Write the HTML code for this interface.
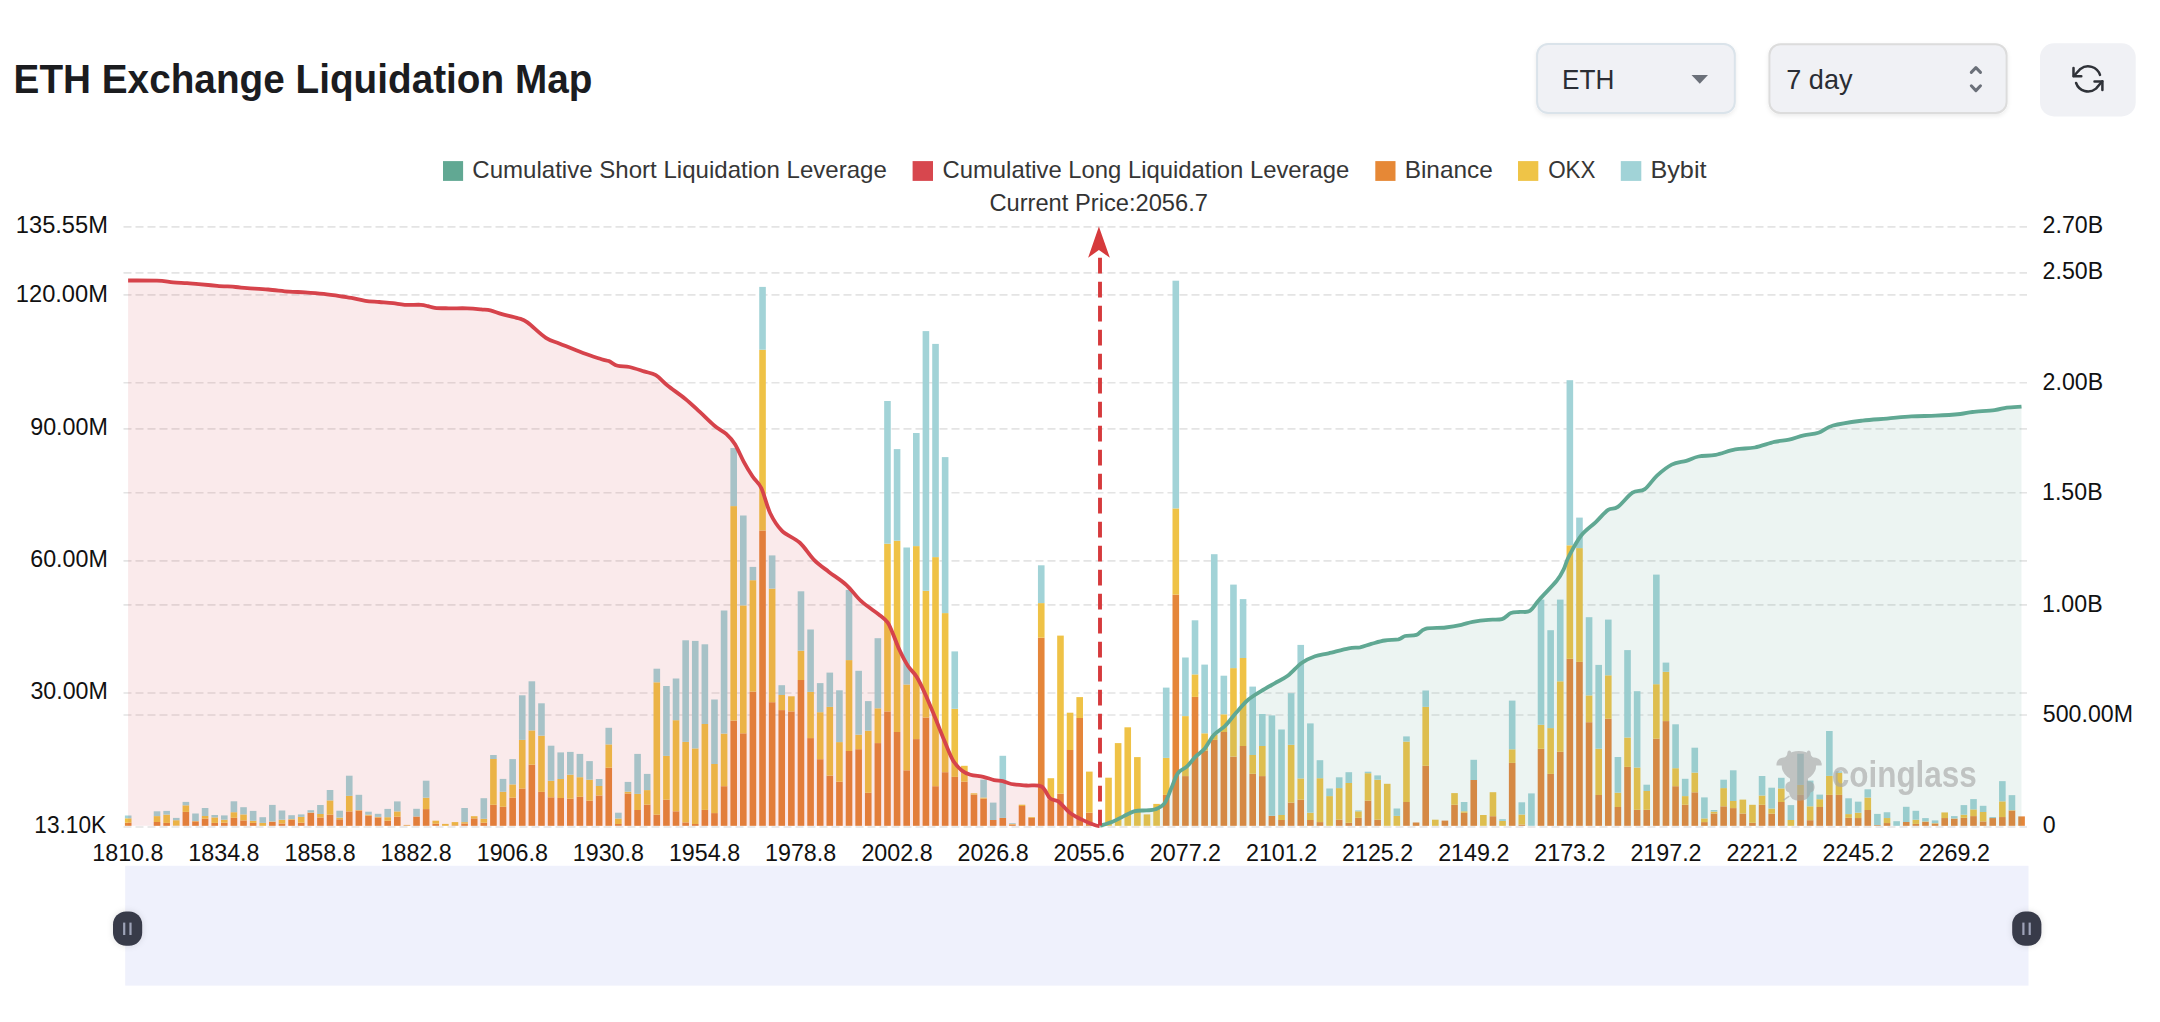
<!DOCTYPE html><html><head><meta charset="utf-8"><title>ETH Exchange Liquidation Map</title><style>html,body{margin:0;padding:0;background:#fff;width:2160px;height:1022px;overflow:hidden}svg{display:block}</style></head><body><svg width="2160" height="1022" viewBox="0 0 2160 1022" font-family="Liberation Sans, sans-serif"><text x="13.59" y="93.10" font-size="40" font-weight="bold" fill="#1b1c1f" textLength="578.79" lengthAdjust="spacingAndGlyphs">ETH Exchange Liquidation Map</text><defs><filter id="sh" x="-10%" y="-20%" width="120%" height="150%"><feDropShadow dx="0" dy="2" stdDeviation="2" flood-color="#000" flood-opacity="0.08"/></filter></defs><rect x="1537.1" y="44.1" width="197.7" height="69" rx="11" fill="#f0f1f5" stroke="#dae3ea" stroke-width="2" filter="url(#sh)"/><text x="1562.04" y="88.90" font-size="27" fill="#2a2d34" textLength="52.32" lengthAdjust="spacingAndGlyphs">ETH</text><path d="M1691.5 75 L1708 75 L1699.8 83.8 Z" fill="#6b7079"/><rect x="1769.4" y="44.3" width="237.2" height="68.6" rx="11" fill="#f0f1f5" stroke="#dcdcdc" stroke-width="2" filter="url(#sh)"/><text x="1786.25" y="89.20" font-size="27.5" fill="#2a2d34" textLength="66.29" lengthAdjust="spacingAndGlyphs">7 day</text><path d="M1971.3 72.4 L1975.9 67.6 L1980.5 72.4 M1971.3 85.8 L1975.9 90.6 L1980.5 85.8" fill="none" stroke="#6b7079" stroke-width="3" stroke-linecap="round" stroke-linejoin="round"/><rect x="2040" y="43.3" width="95.7" height="73.1" rx="14" fill="#f0f1f5"/><g fill="none" stroke="#2f3238" stroke-width="2.5" stroke-linecap="round" stroke-linejoin="round"><path d="M2100 74.9 A12.6 12.6 0 0 0 2080.4 68.9 L2073.8 76"/><path d="M2073.5 68 V76.2 H2081.3"/><path d="M2076.1 83 A12.6 12.6 0 0 0 2096 88.6 L2102.3 81.2"/><path d="M2094.5 81.4 H2102.4 V89.9"/></g><rect x="443.0" y="161.1" width="20.1" height="19.8" fill="#61a893"/><text x="472.30" y="178.00" font-size="24" fill="#363636" textLength="414.55" lengthAdjust="spacingAndGlyphs">Cumulative Short Liquidation Leverage</text><rect x="912.6" y="161.1" width="20.4" height="19.8" fill="#d7474e"/><text x="942.51" y="178.00" font-size="24" fill="#363636" textLength="406.82" lengthAdjust="spacingAndGlyphs">Cumulative Long Liquidation Leverage</text><rect x="1375.3" y="161.1" width="20.2" height="19.8" fill="#e68836"/><text x="1404.69" y="178.00" font-size="24" fill="#363636" textLength="88.08" lengthAdjust="spacingAndGlyphs">Binance</text><rect x="1518.0" y="161.1" width="20.3" height="19.8" fill="#efc447"/><text x="1548.13" y="178.00" font-size="24" fill="#363636" textLength="47.35" lengthAdjust="spacingAndGlyphs">OKX</text><rect x="1620.8" y="161.1" width="20.5" height="19.8" fill="#a1d3d7"/><text x="1650.42" y="178.00" font-size="24" fill="#363636" textLength="56.09" lengthAdjust="spacingAndGlyphs">Bybit</text><line x1="123" y1="226.9" x2="2027" y2="226.9" stroke="#e4e4e4" stroke-width="1.6" stroke-dasharray="8 4" stroke-dashoffset="-0.5"/><line x1="123" y1="272.9" x2="2027" y2="272.9" stroke="#e4e4e4" stroke-width="1.6" stroke-dasharray="8 4" stroke-dashoffset="-0.5"/><line x1="123" y1="294.9" x2="2027" y2="294.9" stroke="#e4e4e4" stroke-width="1.6" stroke-dasharray="8 4" stroke-dashoffset="-0.5"/><line x1="123" y1="382.7" x2="2027" y2="382.7" stroke="#e4e4e4" stroke-width="1.6" stroke-dasharray="8 4" stroke-dashoffset="-0.5"/><line x1="123" y1="428.9" x2="2027" y2="428.9" stroke="#e4e4e4" stroke-width="1.6" stroke-dasharray="8 4" stroke-dashoffset="-0.5"/><line x1="123" y1="492.8" x2="2027" y2="492.8" stroke="#e4e4e4" stroke-width="1.6" stroke-dasharray="8 4" stroke-dashoffset="-0.5"/><line x1="123" y1="560.9" x2="2027" y2="560.9" stroke="#e4e4e4" stroke-width="1.6" stroke-dasharray="8 4" stroke-dashoffset="-0.5"/><line x1="123" y1="604.9" x2="2027" y2="604.9" stroke="#e4e4e4" stroke-width="1.6" stroke-dasharray="8 4" stroke-dashoffset="-0.5"/><line x1="123" y1="693.0" x2="2027" y2="693.0" stroke="#e4e4e4" stroke-width="1.6" stroke-dasharray="8 4" stroke-dashoffset="-0.5"/><line x1="123" y1="715.0" x2="2027" y2="715.0" stroke="#e4e4e4" stroke-width="1.6" stroke-dasharray="8 4" stroke-dashoffset="-0.5"/><line x1="123" y1="827.0" x2="2027" y2="827.0" stroke="#e4e4e4" stroke-width="1.6" stroke-dasharray="8 4" stroke-dashoffset="-0.5"/><g><rect x="124.90" y="822.70" width="6.6" height="3.10" fill="#e5863a"/><rect x="124.90" y="818.30" width="6.6" height="4.40" fill="#efc246"/><rect x="124.90" y="815.50" width="6.6" height="2.80" fill="#a2d3d7"/><rect x="153.73" y="822.00" width="6.6" height="3.80" fill="#e5863a"/><rect x="153.73" y="816.10" width="6.6" height="5.90" fill="#efc246"/><rect x="153.73" y="811.30" width="6.6" height="4.80" fill="#a2d3d7"/><rect x="163.34" y="822.90" width="6.6" height="2.90" fill="#e5863a"/><rect x="163.34" y="814.60" width="6.6" height="8.30" fill="#efc246"/><rect x="163.34" y="810.90" width="6.6" height="3.70" fill="#a2d3d7"/><rect x="172.95" y="825.50" width="6.6" height="0.30" fill="#e5863a"/><rect x="172.95" y="820.20" width="6.6" height="5.30" fill="#efc246"/><rect x="172.95" y="817.90" width="6.6" height="2.30" fill="#a2d3d7"/><rect x="182.57" y="811.90" width="6.6" height="13.90" fill="#e5863a"/><rect x="182.57" y="805.30" width="6.6" height="6.60" fill="#efc246"/><rect x="182.57" y="801.90" width="6.6" height="3.40" fill="#a2d3d7"/><rect x="192.18" y="821.40" width="6.6" height="4.40" fill="#e5863a"/><rect x="192.18" y="821.00" width="6.6" height="0.40" fill="#efc246"/><rect x="192.18" y="813.50" width="6.6" height="7.50" fill="#a2d3d7"/><rect x="201.79" y="818.60" width="6.6" height="7.20" fill="#e5863a"/><rect x="201.79" y="816.00" width="6.6" height="2.60" fill="#efc246"/><rect x="201.79" y="808.00" width="6.6" height="8.00" fill="#a2d3d7"/><rect x="211.40" y="822.90" width="6.6" height="2.90" fill="#e5863a"/><rect x="211.40" y="817.40" width="6.6" height="5.50" fill="#efc246"/><rect x="211.40" y="815.00" width="6.6" height="2.40" fill="#a2d3d7"/><rect x="221.01" y="822.70" width="6.6" height="3.10" fill="#e5863a"/><rect x="221.01" y="819.70" width="6.6" height="3.00" fill="#efc246"/><rect x="221.01" y="815.40" width="6.6" height="4.30" fill="#a2d3d7"/><rect x="230.62" y="817.80" width="6.6" height="8.00" fill="#e5863a"/><rect x="230.62" y="812.20" width="6.6" height="5.60" fill="#efc246"/><rect x="230.62" y="801.30" width="6.6" height="10.90" fill="#a2d3d7"/><rect x="240.23" y="820.40" width="6.6" height="5.40" fill="#e5863a"/><rect x="240.23" y="814.40" width="6.6" height="6.00" fill="#efc246"/><rect x="240.23" y="807.20" width="6.6" height="7.20" fill="#a2d3d7"/><rect x="249.84" y="822.90" width="6.6" height="2.90" fill="#e5863a"/><rect x="249.84" y="820.80" width="6.6" height="2.10" fill="#efc246"/><rect x="249.84" y="810.90" width="6.6" height="9.90" fill="#a2d3d7"/><rect x="259.45" y="822.90" width="6.6" height="2.90" fill="#efc246"/><rect x="259.45" y="817.20" width="6.6" height="5.70" fill="#a2d3d7"/><rect x="269.06" y="821.80" width="6.6" height="4.00" fill="#e5863a"/><rect x="269.06" y="821.50" width="6.6" height="0.30" fill="#efc246"/><rect x="269.06" y="804.90" width="6.6" height="16.60" fill="#a2d3d7"/><rect x="278.68" y="823.50" width="6.6" height="2.30" fill="#e5863a"/><rect x="278.68" y="819.70" width="6.6" height="3.80" fill="#efc246"/><rect x="278.68" y="810.50" width="6.6" height="9.20" fill="#a2d3d7"/><rect x="288.29" y="819.70" width="6.6" height="6.10" fill="#e5863a"/><rect x="288.29" y="819.10" width="6.6" height="0.60" fill="#efc246"/><rect x="288.29" y="815.20" width="6.6" height="3.90" fill="#a2d3d7"/><rect x="297.90" y="822.70" width="6.6" height="3.10" fill="#e5863a"/><rect x="297.90" y="816.90" width="6.6" height="5.80" fill="#efc246"/><rect x="297.90" y="814.40" width="6.6" height="2.50" fill="#a2d3d7"/><rect x="307.51" y="812.80" width="6.6" height="13.00" fill="#e5863a"/><rect x="307.51" y="812.50" width="6.6" height="0.30" fill="#efc246"/><rect x="307.51" y="810.20" width="6.6" height="2.30" fill="#a2d3d7"/><rect x="317.12" y="817.50" width="6.6" height="8.30" fill="#e5863a"/><rect x="317.12" y="814.00" width="6.6" height="3.50" fill="#efc246"/><rect x="317.12" y="805.00" width="6.6" height="9.00" fill="#a2d3d7"/><rect x="326.73" y="814.70" width="6.6" height="11.10" fill="#e5863a"/><rect x="326.73" y="800.40" width="6.6" height="14.30" fill="#efc246"/><rect x="326.73" y="790.00" width="6.6" height="10.40" fill="#a2d3d7"/><rect x="336.34" y="819.30" width="6.6" height="6.50" fill="#e5863a"/><rect x="336.34" y="817.60" width="6.6" height="1.70" fill="#efc246"/><rect x="336.34" y="810.70" width="6.6" height="6.90" fill="#a2d3d7"/><rect x="345.95" y="811.40" width="6.6" height="14.40" fill="#e5863a"/><rect x="345.95" y="795.90" width="6.6" height="15.50" fill="#efc246"/><rect x="345.95" y="775.70" width="6.6" height="20.20" fill="#a2d3d7"/><rect x="355.56" y="810.50" width="6.6" height="15.30" fill="#e5863a"/><rect x="355.56" y="810.10" width="6.6" height="0.40" fill="#efc246"/><rect x="355.56" y="794.80" width="6.6" height="15.30" fill="#a2d3d7"/><rect x="365.18" y="815.60" width="6.6" height="10.20" fill="#e5863a"/><rect x="365.18" y="814.70" width="6.6" height="0.90" fill="#efc246"/><rect x="365.18" y="811.70" width="6.6" height="3.00" fill="#a2d3d7"/><rect x="374.79" y="817.50" width="6.6" height="8.30" fill="#e5863a"/><rect x="374.79" y="816.90" width="6.6" height="0.60" fill="#efc246"/><rect x="374.79" y="813.80" width="6.6" height="3.10" fill="#a2d3d7"/><rect x="384.40" y="820.70" width="6.6" height="5.10" fill="#e5863a"/><rect x="384.40" y="817.20" width="6.6" height="3.50" fill="#efc246"/><rect x="384.40" y="808.90" width="6.6" height="8.30" fill="#a2d3d7"/><rect x="394.01" y="816.70" width="6.6" height="9.10" fill="#e5863a"/><rect x="394.01" y="811.40" width="6.6" height="5.30" fill="#efc246"/><rect x="394.01" y="801.40" width="6.6" height="10.00" fill="#a2d3d7"/><rect x="403.62" y="825.30" width="6.6" height="0.50" fill="#e5863a"/><rect x="403.62" y="824.90" width="6.6" height="0.40" fill="#efc246"/><rect x="413.23" y="816.50" width="6.6" height="9.30" fill="#e5863a"/><rect x="413.23" y="808.80" width="6.6" height="7.70" fill="#a2d3d7"/><rect x="422.84" y="809.10" width="6.6" height="16.70" fill="#e5863a"/><rect x="422.84" y="797.70" width="6.6" height="11.40" fill="#efc246"/><rect x="422.84" y="780.70" width="6.6" height="17.00" fill="#a2d3d7"/><rect x="432.45" y="823.70" width="6.6" height="2.10" fill="#e5863a"/><rect x="432.45" y="820.70" width="6.6" height="3.00" fill="#efc246"/><rect x="442.06" y="823.90" width="6.6" height="1.90" fill="#efc246"/><rect x="451.67" y="825.30" width="6.6" height="0.50" fill="#e5863a"/><rect x="451.67" y="822.10" width="6.6" height="3.20" fill="#efc246"/><rect x="461.29" y="823.50" width="6.6" height="2.30" fill="#e5863a"/><rect x="461.29" y="822.10" width="6.6" height="1.40" fill="#efc246"/><rect x="461.29" y="808.00" width="6.6" height="14.10" fill="#a2d3d7"/><rect x="470.90" y="818.40" width="6.6" height="7.40" fill="#e5863a"/><rect x="470.90" y="816.20" width="6.6" height="2.20" fill="#efc246"/><rect x="480.51" y="822.70" width="6.6" height="3.10" fill="#e5863a"/><rect x="480.51" y="818.80" width="6.6" height="3.90" fill="#efc246"/><rect x="480.51" y="798.20" width="6.6" height="20.60" fill="#a2d3d7"/><rect x="490.12" y="804.80" width="6.6" height="21.00" fill="#e5863a"/><rect x="490.12" y="759.00" width="6.6" height="45.80" fill="#efc246"/><rect x="490.12" y="755.00" width="6.6" height="4.00" fill="#a2d3d7"/><rect x="499.73" y="806.80" width="6.6" height="19.00" fill="#e5863a"/><rect x="499.73" y="791.80" width="6.6" height="15.00" fill="#efc246"/><rect x="499.73" y="778.90" width="6.6" height="12.90" fill="#a2d3d7"/><rect x="509.34" y="797.70" width="6.6" height="28.10" fill="#e5863a"/><rect x="509.34" y="784.40" width="6.6" height="13.30" fill="#efc246"/><rect x="509.34" y="759.10" width="6.6" height="25.30" fill="#a2d3d7"/><rect x="518.95" y="788.50" width="6.6" height="37.30" fill="#e5863a"/><rect x="518.95" y="739.90" width="6.6" height="48.60" fill="#efc246"/><rect x="518.95" y="695.30" width="6.6" height="44.60" fill="#a2d3d7"/><rect x="528.56" y="764.70" width="6.6" height="61.10" fill="#e5863a"/><rect x="528.56" y="730.40" width="6.6" height="34.30" fill="#efc246"/><rect x="528.56" y="681.30" width="6.6" height="49.10" fill="#a2d3d7"/><rect x="538.17" y="791.90" width="6.6" height="33.90" fill="#e5863a"/><rect x="538.17" y="735.70" width="6.6" height="56.20" fill="#efc246"/><rect x="538.17" y="703.30" width="6.6" height="32.40" fill="#a2d3d7"/><rect x="547.78" y="797.30" width="6.6" height="28.50" fill="#e5863a"/><rect x="547.78" y="780.80" width="6.6" height="16.50" fill="#efc246"/><rect x="547.78" y="745.70" width="6.6" height="35.10" fill="#a2d3d7"/><rect x="557.39" y="798.00" width="6.6" height="27.80" fill="#e5863a"/><rect x="557.39" y="779.00" width="6.6" height="19.00" fill="#efc246"/><rect x="557.39" y="752.40" width="6.6" height="26.60" fill="#a2d3d7"/><rect x="567.01" y="798.70" width="6.6" height="27.10" fill="#e5863a"/><rect x="567.01" y="774.70" width="6.6" height="24.00" fill="#efc246"/><rect x="567.01" y="751.90" width="6.6" height="22.80" fill="#a2d3d7"/><rect x="576.62" y="796.80" width="6.6" height="29.00" fill="#e5863a"/><rect x="576.62" y="777.20" width="6.6" height="19.60" fill="#efc246"/><rect x="576.62" y="753.90" width="6.6" height="23.30" fill="#a2d3d7"/><rect x="586.23" y="800.70" width="6.6" height="25.10" fill="#e5863a"/><rect x="586.23" y="779.70" width="6.6" height="21.00" fill="#efc246"/><rect x="586.23" y="761.10" width="6.6" height="18.60" fill="#a2d3d7"/><rect x="595.84" y="795.50" width="6.6" height="30.30" fill="#e5863a"/><rect x="595.84" y="786.00" width="6.6" height="9.50" fill="#efc246"/><rect x="595.84" y="779.00" width="6.6" height="7.00" fill="#a2d3d7"/><rect x="605.45" y="767.70" width="6.6" height="58.10" fill="#e5863a"/><rect x="605.45" y="744.40" width="6.6" height="23.30" fill="#efc246"/><rect x="605.45" y="727.80" width="6.6" height="16.60" fill="#a2d3d7"/><rect x="615.06" y="824.00" width="6.6" height="1.80" fill="#e5863a"/><rect x="615.06" y="818.50" width="6.6" height="5.50" fill="#efc246"/><rect x="615.06" y="812.70" width="6.6" height="5.80" fill="#a2d3d7"/><rect x="624.67" y="793.50" width="6.6" height="32.30" fill="#e5863a"/><rect x="624.67" y="791.70" width="6.6" height="1.80" fill="#efc246"/><rect x="624.67" y="781.90" width="6.6" height="9.80" fill="#a2d3d7"/><rect x="634.28" y="810.00" width="6.6" height="15.80" fill="#e5863a"/><rect x="634.28" y="793.90" width="6.6" height="16.10" fill="#efc246"/><rect x="634.28" y="753.90" width="6.6" height="40.00" fill="#a2d3d7"/><rect x="643.89" y="804.70" width="6.6" height="21.10" fill="#e5863a"/><rect x="643.89" y="790.10" width="6.6" height="14.60" fill="#efc246"/><rect x="643.89" y="773.90" width="6.6" height="16.20" fill="#a2d3d7"/><rect x="653.51" y="814.70" width="6.6" height="11.10" fill="#e5863a"/><rect x="653.51" y="682.30" width="6.6" height="132.40" fill="#efc246"/><rect x="653.51" y="668.70" width="6.6" height="13.60" fill="#a2d3d7"/><rect x="663.12" y="799.70" width="6.6" height="26.10" fill="#e5863a"/><rect x="663.12" y="755.90" width="6.6" height="43.80" fill="#efc246"/><rect x="663.12" y="686.00" width="6.6" height="69.90" fill="#a2d3d7"/><rect x="672.73" y="811.30" width="6.6" height="14.50" fill="#e5863a"/><rect x="672.73" y="720.20" width="6.6" height="91.10" fill="#efc246"/><rect x="672.73" y="678.50" width="6.6" height="41.70" fill="#a2d3d7"/><rect x="682.34" y="822.40" width="6.6" height="3.40" fill="#e5863a"/><rect x="682.34" y="741.90" width="6.6" height="80.50" fill="#efc246"/><rect x="682.34" y="640.30" width="6.6" height="101.60" fill="#a2d3d7"/><rect x="691.95" y="824.00" width="6.6" height="1.80" fill="#e5863a"/><rect x="691.95" y="748.40" width="6.6" height="75.60" fill="#efc246"/><rect x="691.95" y="640.90" width="6.6" height="107.50" fill="#a2d3d7"/><rect x="701.56" y="809.90" width="6.6" height="15.90" fill="#e5863a"/><rect x="701.56" y="724.00" width="6.6" height="85.90" fill="#efc246"/><rect x="701.56" y="644.30" width="6.6" height="79.70" fill="#a2d3d7"/><rect x="711.17" y="813.10" width="6.6" height="12.70" fill="#e5863a"/><rect x="711.17" y="764.00" width="6.6" height="49.10" fill="#efc246"/><rect x="711.17" y="699.50" width="6.6" height="64.50" fill="#a2d3d7"/><rect x="720.78" y="786.20" width="6.6" height="39.60" fill="#e5863a"/><rect x="720.78" y="733.60" width="6.6" height="52.60" fill="#efc246"/><rect x="720.78" y="610.50" width="6.6" height="123.10" fill="#a2d3d7"/><rect x="730.39" y="720.60" width="6.6" height="105.20" fill="#e5863a"/><rect x="730.39" y="506.10" width="6.6" height="214.50" fill="#efc246"/><rect x="730.39" y="448.00" width="6.6" height="58.10" fill="#a2d3d7"/><rect x="740.00" y="733.30" width="6.6" height="92.50" fill="#e5863a"/><rect x="740.00" y="605.40" width="6.6" height="127.90" fill="#efc246"/><rect x="740.00" y="515.50" width="6.6" height="89.90" fill="#a2d3d7"/><rect x="749.62" y="691.60" width="6.6" height="134.20" fill="#e5863a"/><rect x="749.62" y="580.20" width="6.6" height="111.40" fill="#efc246"/><rect x="749.62" y="566.90" width="6.6" height="13.30" fill="#a2d3d7"/><rect x="759.23" y="530.50" width="6.6" height="295.30" fill="#e5863a"/><rect x="759.23" y="349.70" width="6.6" height="180.80" fill="#efc246"/><rect x="759.23" y="286.90" width="6.6" height="62.80" fill="#a2d3d7"/><rect x="768.84" y="702.20" width="6.6" height="123.60" fill="#e5863a"/><rect x="768.84" y="588.60" width="6.6" height="113.60" fill="#efc246"/><rect x="768.84" y="555.40" width="6.6" height="33.20" fill="#a2d3d7"/><rect x="778.45" y="710.10" width="6.6" height="115.70" fill="#e5863a"/><rect x="778.45" y="695.00" width="6.6" height="15.10" fill="#efc246"/><rect x="778.45" y="685.20" width="6.6" height="9.80" fill="#a2d3d7"/><rect x="788.06" y="711.40" width="6.6" height="114.40" fill="#e5863a"/><rect x="788.06" y="696.30" width="6.6" height="15.10" fill="#efc246"/><rect x="797.67" y="680.00" width="6.6" height="145.80" fill="#e5863a"/><rect x="797.67" y="650.70" width="6.6" height="29.30" fill="#efc246"/><rect x="797.67" y="591.30" width="6.6" height="59.40" fill="#a2d3d7"/><rect x="807.28" y="738.10" width="6.6" height="87.70" fill="#e5863a"/><rect x="807.28" y="691.90" width="6.6" height="46.20" fill="#efc246"/><rect x="807.28" y="629.50" width="6.6" height="62.40" fill="#a2d3d7"/><rect x="816.89" y="759.20" width="6.6" height="66.60" fill="#e5863a"/><rect x="816.89" y="712.20" width="6.6" height="47.00" fill="#efc246"/><rect x="816.89" y="683.10" width="6.6" height="29.10" fill="#a2d3d7"/><rect x="826.50" y="775.60" width="6.6" height="50.20" fill="#e5863a"/><rect x="826.50" y="706.90" width="6.6" height="68.70" fill="#efc246"/><rect x="826.50" y="672.60" width="6.6" height="34.30" fill="#a2d3d7"/><rect x="836.11" y="781.70" width="6.6" height="44.10" fill="#e5863a"/><rect x="836.11" y="742.10" width="6.6" height="39.60" fill="#efc246"/><rect x="836.11" y="690.30" width="6.6" height="51.80" fill="#a2d3d7"/><rect x="845.73" y="751.00" width="6.6" height="74.80" fill="#e5863a"/><rect x="845.73" y="660.10" width="6.6" height="90.90" fill="#efc246"/><rect x="845.73" y="589.90" width="6.6" height="70.20" fill="#a2d3d7"/><rect x="855.34" y="749.20" width="6.6" height="76.60" fill="#e5863a"/><rect x="855.34" y="734.70" width="6.6" height="14.50" fill="#efc246"/><rect x="855.34" y="670.80" width="6.6" height="63.90" fill="#a2d3d7"/><rect x="864.95" y="792.80" width="6.6" height="33.00" fill="#e5863a"/><rect x="864.95" y="730.70" width="6.6" height="62.10" fill="#efc246"/><rect x="864.95" y="701.10" width="6.6" height="29.60" fill="#a2d3d7"/><rect x="874.56" y="743.10" width="6.6" height="82.70" fill="#e5863a"/><rect x="874.56" y="708.30" width="6.6" height="34.80" fill="#efc246"/><rect x="874.56" y="638.20" width="6.6" height="70.10" fill="#a2d3d7"/><rect x="884.17" y="711.40" width="6.6" height="114.40" fill="#e5863a"/><rect x="884.17" y="543.70" width="6.6" height="167.70" fill="#efc246"/><rect x="884.17" y="401.00" width="6.6" height="142.70" fill="#a2d3d7"/><rect x="893.78" y="732.00" width="6.6" height="93.80" fill="#e5863a"/><rect x="893.78" y="540.70" width="6.6" height="191.30" fill="#efc246"/><rect x="893.78" y="449.10" width="6.6" height="91.60" fill="#a2d3d7"/><rect x="903.39" y="770.30" width="6.6" height="55.50" fill="#e5863a"/><rect x="903.39" y="684.50" width="6.6" height="85.80" fill="#efc246"/><rect x="903.39" y="547.50" width="6.6" height="137.00" fill="#a2d3d7"/><rect x="913.00" y="739.10" width="6.6" height="86.70" fill="#e5863a"/><rect x="913.00" y="546.10" width="6.6" height="193.00" fill="#efc246"/><rect x="913.00" y="433.00" width="6.6" height="113.10" fill="#a2d3d7"/><rect x="922.61" y="717.50" width="6.6" height="108.30" fill="#e5863a"/><rect x="922.61" y="590.80" width="6.6" height="126.70" fill="#efc246"/><rect x="922.61" y="331.10" width="6.6" height="259.70" fill="#a2d3d7"/><rect x="932.22" y="786.20" width="6.6" height="39.60" fill="#e5863a"/><rect x="932.22" y="557.10" width="6.6" height="229.10" fill="#efc246"/><rect x="932.22" y="343.90" width="6.6" height="213.20" fill="#a2d3d7"/><rect x="941.84" y="772.20" width="6.6" height="53.60" fill="#e5863a"/><rect x="941.84" y="613.10" width="6.6" height="159.10" fill="#efc246"/><rect x="941.84" y="457.10" width="6.6" height="156.00" fill="#a2d3d7"/><rect x="951.45" y="776.90" width="6.6" height="48.90" fill="#e5863a"/><rect x="951.45" y="708.80" width="6.6" height="68.10" fill="#efc246"/><rect x="951.45" y="651.40" width="6.6" height="57.40" fill="#a2d3d7"/><rect x="961.06" y="781.70" width="6.6" height="44.10" fill="#e5863a"/><rect x="961.06" y="765.80" width="6.6" height="15.90" fill="#efc246"/><rect x="970.67" y="794.60" width="6.6" height="31.20" fill="#e5863a"/><rect x="970.67" y="793.30" width="6.6" height="1.30" fill="#efc246"/><rect x="980.28" y="798.60" width="6.6" height="27.20" fill="#e5863a"/><rect x="980.28" y="797.50" width="6.6" height="1.10" fill="#efc246"/><rect x="980.28" y="779.60" width="6.6" height="17.90" fill="#a2d3d7"/><rect x="989.89" y="820.00" width="6.6" height="5.80" fill="#e5863a"/><rect x="989.89" y="802.60" width="6.6" height="17.40" fill="#a2d3d7"/><rect x="999.50" y="817.90" width="6.6" height="7.90" fill="#e5863a"/><rect x="999.50" y="755.80" width="6.6" height="62.10" fill="#a2d3d7"/><rect x="1009.11" y="824.50" width="6.6" height="1.30" fill="#e5863a"/><rect x="1009.11" y="824.00" width="6.6" height="0.50" fill="#efc246"/><rect x="1009.11" y="823.20" width="6.6" height="0.80" fill="#a2d3d7"/><rect x="1018.72" y="806.00" width="6.6" height="19.80" fill="#e5863a"/><rect x="1018.72" y="804.70" width="6.6" height="1.30" fill="#efc246"/><rect x="1028.33" y="817.90" width="6.6" height="7.90" fill="#e5863a"/><rect x="1028.33" y="817.10" width="6.6" height="0.80" fill="#efc246"/><rect x="1037.95" y="637.70" width="6.6" height="188.10" fill="#e5863a"/><rect x="1037.95" y="603.10" width="6.6" height="34.60" fill="#efc246"/><rect x="1037.95" y="565.30" width="6.6" height="37.80" fill="#a2d3d7"/><rect x="1047.56" y="799.40" width="6.6" height="26.40" fill="#e5863a"/><rect x="1047.56" y="778.20" width="6.6" height="21.20" fill="#efc246"/><rect x="1057.17" y="793.60" width="6.6" height="32.20" fill="#e5863a"/><rect x="1057.17" y="635.60" width="6.6" height="158.00" fill="#efc246"/><rect x="1066.78" y="750.00" width="6.6" height="75.80" fill="#e5863a"/><rect x="1066.78" y="712.70" width="6.6" height="37.30" fill="#efc246"/><rect x="1076.39" y="718.00" width="6.6" height="107.80" fill="#e5863a"/><rect x="1076.39" y="697.10" width="6.6" height="20.90" fill="#efc246"/><rect x="1086.00" y="812.60" width="6.6" height="13.20" fill="#e5863a"/><rect x="1086.00" y="771.60" width="6.6" height="41.00" fill="#efc246"/><rect x="1105.22" y="777.70" width="6.6" height="48.10" fill="#efc246"/><rect x="1114.83" y="743.10" width="6.6" height="82.70" fill="#efc246"/><rect x="1124.44" y="727.30" width="6.6" height="98.50" fill="#efc246"/><rect x="1134.06" y="757.10" width="6.6" height="68.70" fill="#efc246"/><rect x="1143.67" y="814.40" width="6.6" height="11.40" fill="#efc246"/><rect x="1153.28" y="803.90" width="6.6" height="21.90" fill="#efc246"/><rect x="1162.89" y="794.90" width="6.6" height="30.90" fill="#e5863a"/><rect x="1162.89" y="757.90" width="6.6" height="37.00" fill="#efc246"/><rect x="1162.89" y="687.60" width="6.6" height="70.30" fill="#a2d3d7"/><rect x="1172.50" y="594.60" width="6.6" height="231.20" fill="#e5863a"/><rect x="1172.50" y="508.40" width="6.6" height="86.20" fill="#efc246"/><rect x="1172.50" y="280.70" width="6.6" height="227.70" fill="#a2d3d7"/><rect x="1182.11" y="776.10" width="6.6" height="49.70" fill="#e5863a"/><rect x="1182.11" y="716.10" width="6.6" height="60.00" fill="#efc246"/><rect x="1182.11" y="657.50" width="6.6" height="58.60" fill="#a2d3d7"/><rect x="1191.72" y="696.90" width="6.6" height="128.90" fill="#e5863a"/><rect x="1191.72" y="674.40" width="6.6" height="22.50" fill="#efc246"/><rect x="1191.72" y="620.30" width="6.6" height="54.10" fill="#a2d3d7"/><rect x="1201.33" y="750.50" width="6.6" height="75.30" fill="#e5863a"/><rect x="1201.33" y="733.30" width="6.6" height="17.20" fill="#efc246"/><rect x="1201.33" y="664.60" width="6.6" height="68.70" fill="#a2d3d7"/><rect x="1210.94" y="739.90" width="6.6" height="85.90" fill="#e5863a"/><rect x="1210.94" y="734.60" width="6.6" height="5.30" fill="#efc246"/><rect x="1210.94" y="554.20" width="6.6" height="180.40" fill="#a2d3d7"/><rect x="1220.55" y="732.00" width="6.6" height="93.80" fill="#e5863a"/><rect x="1220.55" y="714.30" width="6.6" height="17.70" fill="#efc246"/><rect x="1220.55" y="675.70" width="6.6" height="38.60" fill="#a2d3d7"/><rect x="1230.17" y="756.60" width="6.6" height="69.20" fill="#e5863a"/><rect x="1230.17" y="668.10" width="6.6" height="88.50" fill="#efc246"/><rect x="1230.17" y="584.60" width="6.6" height="83.50" fill="#a2d3d7"/><rect x="1239.78" y="746.00" width="6.6" height="79.80" fill="#e5863a"/><rect x="1239.78" y="658.00" width="6.6" height="88.00" fill="#efc246"/><rect x="1239.78" y="599.10" width="6.6" height="58.90" fill="#a2d3d7"/><rect x="1249.39" y="773.80" width="6.6" height="52.00" fill="#e5863a"/><rect x="1249.39" y="755.00" width="6.6" height="18.80" fill="#efc246"/><rect x="1249.39" y="686.60" width="6.6" height="68.40" fill="#a2d3d7"/><rect x="1259.00" y="776.10" width="6.6" height="49.70" fill="#e5863a"/><rect x="1259.00" y="746.00" width="6.6" height="30.10" fill="#efc246"/><rect x="1259.00" y="714.00" width="6.6" height="32.00" fill="#a2d3d7"/><rect x="1268.61" y="815.80" width="6.6" height="10.00" fill="#e5863a"/><rect x="1268.61" y="715.40" width="6.6" height="100.40" fill="#a2d3d7"/><rect x="1278.22" y="820.00" width="6.6" height="5.80" fill="#e5863a"/><rect x="1278.22" y="815.00" width="6.6" height="5.00" fill="#efc246"/><rect x="1278.22" y="729.50" width="6.6" height="85.50" fill="#a2d3d7"/><rect x="1287.83" y="802.60" width="6.6" height="23.20" fill="#e5863a"/><rect x="1287.83" y="744.80" width="6.6" height="57.80" fill="#efc246"/><rect x="1287.83" y="693.20" width="6.6" height="51.60" fill="#a2d3d7"/><rect x="1297.44" y="799.60" width="6.6" height="26.20" fill="#e5863a"/><rect x="1297.44" y="778.40" width="6.6" height="21.20" fill="#efc246"/><rect x="1297.44" y="644.90" width="6.6" height="133.50" fill="#a2d3d7"/><rect x="1307.05" y="820.00" width="6.6" height="5.80" fill="#e5863a"/><rect x="1307.05" y="812.70" width="6.6" height="7.30" fill="#efc246"/><rect x="1307.05" y="723.40" width="6.6" height="89.30" fill="#a2d3d7"/><rect x="1316.66" y="822.10" width="6.6" height="3.70" fill="#e5863a"/><rect x="1316.66" y="778.20" width="6.6" height="43.90" fill="#efc246"/><rect x="1316.66" y="760.20" width="6.6" height="18.00" fill="#a2d3d7"/><rect x="1326.28" y="796.10" width="6.6" height="29.70" fill="#efc246"/><rect x="1326.28" y="788.50" width="6.6" height="7.60" fill="#a2d3d7"/><rect x="1335.89" y="819.70" width="6.6" height="6.10" fill="#e5863a"/><rect x="1335.89" y="788.10" width="6.6" height="31.60" fill="#efc246"/><rect x="1335.89" y="777.30" width="6.6" height="10.80" fill="#a2d3d7"/><rect x="1345.50" y="822.80" width="6.6" height="3.00" fill="#e5863a"/><rect x="1345.50" y="783.00" width="6.6" height="39.80" fill="#efc246"/><rect x="1345.50" y="772.20" width="6.6" height="10.80" fill="#a2d3d7"/><rect x="1355.11" y="817.80" width="6.6" height="8.00" fill="#e5863a"/><rect x="1355.11" y="811.30" width="6.6" height="6.50" fill="#efc246"/><rect x="1355.11" y="810.40" width="6.6" height="0.90" fill="#a2d3d7"/><rect x="1364.72" y="800.70" width="6.6" height="25.10" fill="#e5863a"/><rect x="1364.72" y="773.20" width="6.6" height="27.50" fill="#efc246"/><rect x="1364.72" y="771.70" width="6.6" height="1.50" fill="#a2d3d7"/><rect x="1374.33" y="819.70" width="6.6" height="6.10" fill="#e5863a"/><rect x="1374.33" y="779.70" width="6.6" height="40.00" fill="#efc246"/><rect x="1374.33" y="775.40" width="6.6" height="4.30" fill="#a2d3d7"/><rect x="1383.94" y="783.80" width="6.6" height="42.00" fill="#efc246"/><rect x="1393.55" y="815.90" width="6.6" height="9.90" fill="#efc246"/><rect x="1393.55" y="808.50" width="6.6" height="7.40" fill="#a2d3d7"/><rect x="1403.16" y="802.00" width="6.6" height="23.80" fill="#e5863a"/><rect x="1403.16" y="741.60" width="6.6" height="60.40" fill="#efc246"/><rect x="1403.16" y="736.40" width="6.6" height="5.20" fill="#a2d3d7"/><rect x="1412.77" y="822.50" width="6.6" height="3.30" fill="#e5863a"/><rect x="1422.39" y="765.80" width="6.6" height="60.00" fill="#e5863a"/><rect x="1422.39" y="706.90" width="6.6" height="58.90" fill="#efc246"/><rect x="1422.39" y="690.50" width="6.6" height="16.40" fill="#a2d3d7"/><rect x="1432.00" y="819.70" width="6.6" height="6.10" fill="#efc246"/><rect x="1441.61" y="820.60" width="6.6" height="5.20" fill="#e5863a"/><rect x="1451.22" y="804.80" width="6.6" height="21.00" fill="#e5863a"/><rect x="1451.22" y="793.10" width="6.6" height="11.70" fill="#efc246"/><rect x="1460.83" y="812.80" width="6.6" height="13.00" fill="#e5863a"/><rect x="1460.83" y="811.30" width="6.6" height="1.50" fill="#efc246"/><rect x="1460.83" y="802.00" width="6.6" height="9.30" fill="#a2d3d7"/><rect x="1470.44" y="780.00" width="6.6" height="45.80" fill="#e5863a"/><rect x="1470.44" y="759.80" width="6.6" height="20.20" fill="#a2d3d7"/><rect x="1480.05" y="815.00" width="6.6" height="10.80" fill="#efc246"/><rect x="1489.66" y="816.20" width="6.6" height="9.60" fill="#e5863a"/><rect x="1489.66" y="792.20" width="6.6" height="24.00" fill="#efc246"/><rect x="1499.27" y="820.90" width="6.6" height="4.90" fill="#efc246"/><rect x="1499.27" y="819.20" width="6.6" height="1.70" fill="#a2d3d7"/><rect x="1508.88" y="762.90" width="6.6" height="62.90" fill="#e5863a"/><rect x="1508.88" y="749.30" width="6.6" height="13.60" fill="#efc246"/><rect x="1508.88" y="700.60" width="6.6" height="48.70" fill="#a2d3d7"/><rect x="1518.50" y="824.60" width="6.6" height="1.20" fill="#e5863a"/><rect x="1518.50" y="814.50" width="6.6" height="10.10" fill="#efc246"/><rect x="1518.50" y="802.30" width="6.6" height="12.20" fill="#a2d3d7"/><rect x="1528.11" y="793.40" width="6.6" height="32.40" fill="#a2d3d7"/><rect x="1537.72" y="748.80" width="6.6" height="77.00" fill="#e5863a"/><rect x="1537.72" y="724.80" width="6.6" height="24.00" fill="#efc246"/><rect x="1537.72" y="599.60" width="6.6" height="125.20" fill="#a2d3d7"/><rect x="1547.33" y="773.90" width="6.6" height="51.90" fill="#e5863a"/><rect x="1547.33" y="728.10" width="6.6" height="45.80" fill="#efc246"/><rect x="1547.33" y="630.20" width="6.6" height="97.90" fill="#a2d3d7"/><rect x="1556.94" y="751.80" width="6.6" height="74.00" fill="#e5863a"/><rect x="1556.94" y="681.30" width="6.6" height="70.50" fill="#efc246"/><rect x="1556.94" y="599.60" width="6.6" height="81.70" fill="#a2d3d7"/><rect x="1566.55" y="658.80" width="6.6" height="167.00" fill="#e5863a"/><rect x="1566.55" y="545.30" width="6.6" height="113.50" fill="#efc246"/><rect x="1566.55" y="380.20" width="6.6" height="165.10" fill="#a2d3d7"/><rect x="1576.16" y="661.90" width="6.6" height="163.90" fill="#e5863a"/><rect x="1576.16" y="548.10" width="6.6" height="113.80" fill="#efc246"/><rect x="1576.16" y="517.60" width="6.6" height="30.50" fill="#a2d3d7"/><rect x="1585.77" y="722.20" width="6.6" height="103.60" fill="#e5863a"/><rect x="1585.77" y="695.40" width="6.6" height="26.80" fill="#efc246"/><rect x="1585.77" y="617.20" width="6.6" height="78.20" fill="#a2d3d7"/><rect x="1595.38" y="795.00" width="6.6" height="30.80" fill="#e5863a"/><rect x="1595.38" y="748.70" width="6.6" height="46.30" fill="#efc246"/><rect x="1595.38" y="664.90" width="6.6" height="83.80" fill="#a2d3d7"/><rect x="1604.99" y="718.70" width="6.6" height="107.10" fill="#e5863a"/><rect x="1604.99" y="675.30" width="6.6" height="43.40" fill="#efc246"/><rect x="1604.99" y="619.60" width="6.6" height="55.70" fill="#a2d3d7"/><rect x="1614.61" y="807.00" width="6.6" height="18.80" fill="#e5863a"/><rect x="1614.61" y="792.70" width="6.6" height="14.30" fill="#efc246"/><rect x="1614.61" y="757.00" width="6.6" height="35.70" fill="#a2d3d7"/><rect x="1624.22" y="766.90" width="6.6" height="58.90" fill="#e5863a"/><rect x="1624.22" y="737.50" width="6.6" height="29.40" fill="#efc246"/><rect x="1624.22" y="650.10" width="6.6" height="87.40" fill="#a2d3d7"/><rect x="1633.83" y="809.80" width="6.6" height="16.00" fill="#e5863a"/><rect x="1633.83" y="767.50" width="6.6" height="42.30" fill="#efc246"/><rect x="1633.83" y="691.20" width="6.6" height="76.30" fill="#a2d3d7"/><rect x="1643.44" y="809.80" width="6.6" height="16.00" fill="#e5863a"/><rect x="1643.44" y="791.00" width="6.6" height="18.80" fill="#efc246"/><rect x="1643.44" y="784.70" width="6.6" height="6.30" fill="#a2d3d7"/><rect x="1653.05" y="738.70" width="6.6" height="87.10" fill="#e5863a"/><rect x="1653.05" y="684.20" width="6.6" height="54.50" fill="#efc246"/><rect x="1653.05" y="574.60" width="6.6" height="109.60" fill="#a2d3d7"/><rect x="1662.66" y="721.10" width="6.6" height="104.70" fill="#e5863a"/><rect x="1662.66" y="671.80" width="6.6" height="49.30" fill="#efc246"/><rect x="1662.66" y="662.60" width="6.6" height="9.20" fill="#a2d3d7"/><rect x="1672.27" y="786.20" width="6.6" height="39.60" fill="#e5863a"/><rect x="1672.27" y="768.20" width="6.6" height="18.00" fill="#efc246"/><rect x="1672.27" y="724.30" width="6.6" height="43.90" fill="#a2d3d7"/><rect x="1681.88" y="804.80" width="6.6" height="21.00" fill="#e5863a"/><rect x="1681.88" y="796.10" width="6.6" height="8.70" fill="#efc246"/><rect x="1681.88" y="778.80" width="6.6" height="17.30" fill="#a2d3d7"/><rect x="1691.49" y="792.30" width="6.6" height="33.50" fill="#e5863a"/><rect x="1691.49" y="772.60" width="6.6" height="19.70" fill="#efc246"/><rect x="1691.49" y="747.70" width="6.6" height="24.90" fill="#a2d3d7"/><rect x="1701.10" y="822.10" width="6.6" height="3.70" fill="#e5863a"/><rect x="1701.10" y="818.40" width="6.6" height="3.70" fill="#efc246"/><rect x="1701.10" y="797.40" width="6.6" height="21.00" fill="#a2d3d7"/><rect x="1710.72" y="813.50" width="6.6" height="12.30" fill="#e5863a"/><rect x="1710.72" y="811.60" width="6.6" height="1.90" fill="#efc246"/><rect x="1710.72" y="810.00" width="6.6" height="1.60" fill="#a2d3d7"/><rect x="1720.33" y="806.30" width="6.6" height="19.50" fill="#e5863a"/><rect x="1720.33" y="788.10" width="6.6" height="18.20" fill="#efc246"/><rect x="1720.33" y="779.70" width="6.6" height="8.40" fill="#a2d3d7"/><rect x="1729.94" y="808.10" width="6.6" height="17.70" fill="#e5863a"/><rect x="1729.94" y="801.00" width="6.6" height="7.10" fill="#efc246"/><rect x="1729.94" y="770.30" width="6.6" height="30.70" fill="#a2d3d7"/><rect x="1739.55" y="813.50" width="6.6" height="12.30" fill="#e5863a"/><rect x="1739.55" y="799.60" width="6.6" height="13.90" fill="#efc246"/><rect x="1749.16" y="822.80" width="6.6" height="3.00" fill="#e5863a"/><rect x="1749.16" y="804.80" width="6.6" height="18.00" fill="#efc246"/><rect x="1758.77" y="804.80" width="6.6" height="21.00" fill="#e5863a"/><rect x="1758.77" y="795.50" width="6.6" height="9.30" fill="#efc246"/><rect x="1758.77" y="776.00" width="6.6" height="19.50" fill="#a2d3d7"/><rect x="1768.38" y="813.70" width="6.6" height="12.10" fill="#e5863a"/><rect x="1768.38" y="808.50" width="6.6" height="5.20" fill="#efc246"/><rect x="1768.38" y="787.70" width="6.6" height="20.80" fill="#a2d3d7"/><rect x="1777.99" y="802.00" width="6.6" height="23.80" fill="#e5863a"/><rect x="1777.99" y="788.40" width="6.6" height="13.60" fill="#efc246"/><rect x="1777.99" y="777.80" width="6.6" height="10.60" fill="#a2d3d7"/><rect x="1787.60" y="820.00" width="6.6" height="5.80" fill="#efc246"/><rect x="1787.60" y="805.10" width="6.6" height="14.90" fill="#a2d3d7"/><rect x="1797.21" y="794.90" width="6.6" height="30.90" fill="#e5863a"/><rect x="1797.21" y="784.90" width="6.6" height="10.00" fill="#efc246"/><rect x="1797.21" y="753.70" width="6.6" height="31.20" fill="#a2d3d7"/><rect x="1806.83" y="820.20" width="6.6" height="5.60" fill="#e5863a"/><rect x="1806.83" y="806.30" width="6.6" height="13.90" fill="#efc246"/><rect x="1806.83" y="780.60" width="6.6" height="25.70" fill="#a2d3d7"/><rect x="1816.44" y="807.00" width="6.6" height="18.80" fill="#e5863a"/><rect x="1816.44" y="799.20" width="6.6" height="7.80" fill="#efc246"/><rect x="1816.44" y="794.60" width="6.6" height="4.60" fill="#a2d3d7"/><rect x="1826.05" y="794.90" width="6.6" height="30.90" fill="#e5863a"/><rect x="1826.05" y="775.90" width="6.6" height="19.00" fill="#efc246"/><rect x="1826.05" y="731.00" width="6.6" height="44.90" fill="#a2d3d7"/><rect x="1835.66" y="794.90" width="6.6" height="30.90" fill="#e5863a"/><rect x="1835.66" y="772.80" width="6.6" height="22.10" fill="#efc246"/><rect x="1835.66" y="771.30" width="6.6" height="1.50" fill="#a2d3d7"/><rect x="1845.27" y="817.80" width="6.6" height="8.00" fill="#e5863a"/><rect x="1845.27" y="814.10" width="6.6" height="3.70" fill="#efc246"/><rect x="1845.27" y="798.30" width="6.6" height="15.80" fill="#a2d3d7"/><rect x="1854.88" y="818.05" width="6.6" height="7.75" fill="#e5863a"/><rect x="1854.88" y="812.65" width="6.6" height="5.40" fill="#efc246"/><rect x="1854.88" y="801.65" width="6.6" height="11.00" fill="#a2d3d7"/><rect x="1864.49" y="810.00" width="6.6" height="15.80" fill="#e5863a"/><rect x="1864.49" y="797.50" width="6.6" height="12.50" fill="#efc246"/><rect x="1864.49" y="789.30" width="6.6" height="8.20" fill="#a2d3d7"/><rect x="1874.10" y="825.10" width="6.6" height="0.70" fill="#e5863a"/><rect x="1874.10" y="813.90" width="6.6" height="11.20" fill="#a2d3d7"/><rect x="1883.71" y="823.05" width="6.6" height="2.75" fill="#e5863a"/><rect x="1883.71" y="818.05" width="6.6" height="5.00" fill="#efc246"/><rect x="1883.71" y="812.25" width="6.6" height="5.80" fill="#a2d3d7"/><rect x="1893.32" y="821.20" width="6.6" height="4.60" fill="#a2d3d7"/><rect x="1902.94" y="822.00" width="6.6" height="3.80" fill="#e5863a"/><rect x="1902.94" y="806.80" width="6.6" height="15.20" fill="#a2d3d7"/><rect x="1912.55" y="823.90" width="6.6" height="1.90" fill="#e5863a"/><rect x="1912.55" y="819.70" width="6.6" height="4.20" fill="#efc246"/><rect x="1912.55" y="810.80" width="6.6" height="8.90" fill="#a2d3d7"/><rect x="1922.16" y="821.80" width="6.6" height="4.00" fill="#e5863a"/><rect x="1922.16" y="821.40" width="6.6" height="0.40" fill="#efc246"/><rect x="1922.16" y="818.10" width="6.6" height="3.30" fill="#a2d3d7"/><rect x="1931.77" y="823.50" width="6.6" height="2.30" fill="#e5863a"/><rect x="1931.77" y="823.10" width="6.6" height="0.40" fill="#efc246"/><rect x="1931.77" y="820.40" width="6.6" height="2.70" fill="#a2d3d7"/><rect x="1941.38" y="818.05" width="6.6" height="7.75" fill="#e5863a"/><rect x="1941.38" y="812.45" width="6.6" height="5.60" fill="#efc246"/><rect x="1950.99" y="818.70" width="6.6" height="7.10" fill="#e5863a"/><rect x="1950.99" y="818.40" width="6.6" height="0.30" fill="#efc246"/><rect x="1950.99" y="816.10" width="6.6" height="2.30" fill="#a2d3d7"/><rect x="1960.60" y="817.80" width="6.6" height="8.00" fill="#e5863a"/><rect x="1960.60" y="814.70" width="6.6" height="3.10" fill="#efc246"/><rect x="1960.60" y="805.10" width="6.6" height="9.60" fill="#a2d3d7"/><rect x="1970.21" y="816.10" width="6.6" height="9.70" fill="#e5863a"/><rect x="1970.21" y="809.40" width="6.6" height="6.70" fill="#efc246"/><rect x="1970.21" y="799.10" width="6.6" height="10.30" fill="#a2d3d7"/><rect x="1979.82" y="821.40" width="6.6" height="4.40" fill="#e5863a"/><rect x="1979.82" y="812.00" width="6.6" height="9.40" fill="#efc246"/><rect x="1979.82" y="805.80" width="6.6" height="6.20" fill="#a2d3d7"/><rect x="1989.43" y="818.05" width="6.6" height="7.75" fill="#e5863a"/><rect x="1989.43" y="817.05" width="6.6" height="1.00" fill="#a2d3d7"/><rect x="1999.05" y="817.05" width="6.6" height="8.75" fill="#e5863a"/><rect x="1999.05" y="801.35" width="6.6" height="15.70" fill="#efc246"/><rect x="1999.05" y="781.15" width="6.6" height="20.20" fill="#a2d3d7"/><rect x="2008.66" y="810.55" width="6.6" height="15.25" fill="#e5863a"/><rect x="2008.66" y="810.15" width="6.6" height="0.40" fill="#efc246"/><rect x="2008.66" y="795.15" width="6.6" height="15.00" fill="#a2d3d7"/><rect x="2018.27" y="816.40" width="6.6" height="9.40" fill="#e5863a"/></g><path d="M128.1 280.5 C132.9 280.5 149.5 280.4 157.0 280.7 C164.5 281.0 168.2 282.0 173.2 282.4 C178.2 282.8 182.8 282.8 187.1 283.1 C191.3 283.4 193.7 283.8 198.7 284.2 C203.7 284.6 211.0 285.3 217.2 285.8 C223.4 286.3 230.7 286.6 235.7 287.0 C240.7 287.4 241.9 287.7 247.3 288.1 C252.7 288.5 261.2 288.9 268.1 289.5 C275.1 290.1 282.8 291.1 289.0 291.6 C295.2 292.1 299.4 291.9 305.2 292.3 C311.0 292.7 317.5 293.2 323.7 293.9 C329.9 294.6 337.6 295.8 342.2 296.5 C346.8 297.2 347.6 297.2 351.5 297.9 C355.4 298.6 360.8 300.2 365.4 300.9 C370.0 301.6 374.7 301.6 379.3 302.0 C383.9 302.4 388.9 302.7 393.1 303.2 C397.3 303.7 400.1 304.5 404.7 304.8 C409.3 305.1 417.0 304.6 420.9 304.8 C424.8 305.0 425.6 305.7 427.9 306.2 C430.2 306.7 431.3 307.4 434.8 307.8 C438.3 308.2 443.3 308.2 448.7 308.3 C454.1 308.4 461.8 308.1 467.2 308.3 C472.6 308.5 477.2 309.0 481.1 309.4 C485.0 309.8 486.9 309.6 490.4 310.4 C493.9 311.2 497.3 312.8 501.9 314.1 C506.5 315.4 513.9 316.8 518.1 318.2 C522.4 319.6 522.8 319.1 527.4 322.4 C532.0 325.7 540.5 334.3 545.9 337.9 C551.3 341.4 553.6 341.2 559.8 343.7 C566.0 346.2 576.0 350.4 583.0 353.0 C590.0 355.6 597.2 357.8 601.5 359.2 C605.8 360.6 606.1 360.0 608.8 361.1 C611.5 362.2 614.2 364.8 617.6 365.8 C621.0 366.8 625.0 366.1 629.4 367.0 C633.8 367.9 639.6 370.0 644.0 371.4 C648.4 372.8 651.9 372.8 655.8 375.2 C659.7 377.6 662.6 381.6 667.5 385.5 C672.4 389.4 679.7 394.3 685.1 398.7 C690.5 403.1 694.9 407.4 699.8 411.9 C704.7 416.4 710.1 422.0 714.5 425.7 C718.9 429.4 722.8 430.8 726.2 433.9 C729.6 437.0 732.1 439.5 735.0 444.2 C737.9 448.9 740.9 456.4 743.8 461.8 C746.7 467.2 749.7 472.1 752.6 476.5 C755.5 480.9 758.5 482.1 761.4 488.2 C764.3 494.3 766.8 506.1 770.2 513.2 C773.6 520.3 777.1 525.9 782.0 530.8 C786.9 535.7 794.2 537.6 799.6 542.5 C805.0 547.4 809.4 555.2 814.3 560.1 C819.2 565.0 823.5 567.7 828.9 571.9 C834.3 576.1 841.1 580.2 846.5 585.1 C851.9 590.0 855.8 596.3 861.2 601.2 C866.6 606.1 874.4 610.9 878.8 614.4 C883.2 617.9 885.2 619.2 887.6 622.4 C890.0 625.6 890.9 629.1 892.9 633.7 C894.9 638.3 896.9 644.4 899.4 649.8 C901.9 655.2 905.1 661.5 908.0 666.0 C910.9 670.5 913.7 672.0 916.6 676.7 C919.5 681.4 922.0 686.8 925.2 694.0 C928.4 701.2 932.8 711.9 936.0 719.8 C939.2 727.7 941.7 734.5 944.6 741.3 C947.5 748.1 950.3 755.9 953.2 760.7 C956.1 765.6 958.9 768.1 961.8 770.4 C964.7 772.7 966.8 773.6 970.4 774.7 C974.0 775.8 979.3 775.9 983.3 776.8 C987.2 777.7 990.9 779.4 994.1 780.1 C997.3 780.8 999.8 780.6 1002.7 781.2 C1005.6 781.9 1007.3 783.3 1011.3 784.0 C1015.2 784.7 1021.4 785.1 1026.4 785.5 C1031.4 785.9 1037.5 784.4 1041.5 786.5 C1045.5 788.6 1047.2 795.9 1050.1 798.4 C1053.0 800.9 1055.5 799.3 1058.7 801.6 C1061.9 803.9 1065.5 809.4 1069.5 812.4 C1073.5 815.4 1078.1 817.8 1082.4 819.9 C1086.7 822.0 1092.4 824.3 1095.3 825.3 C1098.2 826.3 1098.9 825.9 1099.6 826.0 L1099.6 825.8 L128.1 825.8 Z" fill="#d6434b" fill-opacity="0.11"/><path d="M1100.1 825.7 C1102.2 825.0 1108.5 823.3 1112.5 821.7 C1116.5 820.1 1120.0 817.9 1123.8 816.1 C1127.5 814.3 1131.2 812.1 1135.0 811.1 C1138.8 810.1 1142.9 810.7 1146.3 810.4 C1149.7 810.1 1152.3 810.4 1155.3 809.3 C1158.3 808.2 1161.7 807.1 1164.3 803.7 C1166.9 800.3 1168.8 794.2 1171.0 789.1 C1173.2 784.0 1175.2 777.0 1177.8 773.3 C1180.4 769.5 1183.8 769.4 1186.8 766.6 C1189.8 763.8 1192.8 759.4 1195.8 756.4 C1198.8 753.4 1201.8 752.1 1204.8 748.5 C1207.8 744.9 1210.4 738.8 1213.8 735.0 C1217.2 731.2 1221.2 729.8 1225.0 726.0 C1228.8 722.2 1232.5 716.8 1236.3 712.5 C1240.1 708.2 1243.5 703.8 1247.6 700.2 C1251.7 696.7 1256.6 694.0 1261.1 691.2 C1265.6 688.4 1270.1 685.9 1274.6 683.3 C1279.1 680.7 1283.6 678.8 1288.1 675.4 C1292.6 672.0 1297.1 666.2 1301.6 663.0 C1306.1 659.8 1310.6 657.9 1315.1 656.3 C1319.6 654.7 1323.0 654.6 1328.6 653.3 C1334.2 652.0 1343.5 649.4 1348.8 648.4 C1354.0 647.4 1356.3 648.0 1360.1 647.3 C1363.8 646.5 1367.2 645.0 1371.3 643.9 C1375.4 642.8 1380.3 641.2 1384.8 640.5 C1389.3 639.8 1395.0 640.1 1398.4 639.4 C1401.8 638.6 1402.1 636.8 1405.1 636.0 C1408.1 635.2 1413.0 636.1 1416.4 634.9 C1419.8 633.7 1420.5 630.0 1425.4 628.8 C1430.3 627.6 1439.6 628.2 1445.6 627.5 C1451.6 626.8 1456.9 625.8 1461.4 624.8 C1465.9 623.8 1468.1 622.6 1472.6 621.8 C1477.1 621.0 1483.5 620.2 1488.4 619.8 C1493.3 619.3 1498.2 620.2 1501.9 619.1 C1505.7 618.0 1507.9 614.3 1510.9 613.1 C1513.9 611.9 1516.8 612.3 1520.0 611.9 C1523.2 611.5 1526.5 613.0 1529.8 610.9 C1533.1 608.8 1535.1 604.2 1539.6 599.2 C1544.1 594.2 1552.6 585.9 1556.7 580.8 C1560.8 575.7 1562.0 572.7 1564.0 568.6 C1566.0 564.5 1566.0 561.8 1568.9 556.3 C1571.8 550.8 1576.7 541.2 1581.2 535.5 C1585.7 529.8 1591.3 526.4 1595.8 522.1 C1600.3 517.8 1604.4 512.4 1608.1 509.9 C1611.8 507.4 1613.7 509.8 1617.8 506.9 C1621.9 504.0 1628.0 495.7 1632.5 492.7 C1637.0 489.7 1640.7 492.0 1644.8 489.1 C1648.9 486.2 1652.5 479.7 1657.0 475.6 C1661.5 471.5 1666.8 467.1 1671.7 464.6 C1676.6 462.2 1681.8 462.2 1686.3 460.9 C1690.8 459.5 1693.7 457.5 1698.6 456.5 C1703.5 455.5 1709.6 456.0 1715.7 454.8 C1721.8 453.6 1728.8 450.6 1735.3 449.4 C1741.8 448.2 1748.3 448.8 1754.8 447.5 C1761.3 446.2 1768.7 443.2 1774.4 441.9 C1780.1 440.6 1784.2 440.8 1789.1 439.7 C1794.0 438.6 1798.9 436.4 1803.8 435.3 C1808.7 434.2 1813.5 434.4 1818.4 432.8 C1823.3 431.2 1825.8 427.5 1833.1 425.5 C1840.4 423.5 1853.5 421.8 1862.5 420.6 C1871.5 419.5 1878.8 419.3 1886.9 418.6 C1895.1 417.9 1903.2 416.9 1911.4 416.4 C1919.6 415.9 1927.8 416.1 1935.9 415.7 C1944.1 415.3 1954.2 414.6 1960.3 414.0 C1966.4 413.4 1966.8 412.6 1972.5 412.0 C1978.2 411.4 1988.9 410.8 1994.6 410.1 C2000.3 409.4 2002.3 408.2 2006.8 407.6 C2011.3 407.0 2019.0 406.8 2021.5 406.6 L2021.5 825.8 L1100.1 825.8 Z" fill="#60a893" fill-opacity="0.12"/><path d="M128.1 280.5 C132.9 280.5 149.5 280.4 157.0 280.7 C164.5 281.0 168.2 282.0 173.2 282.4 C178.2 282.8 182.8 282.8 187.1 283.1 C191.3 283.4 193.7 283.8 198.7 284.2 C203.7 284.6 211.0 285.3 217.2 285.8 C223.4 286.3 230.7 286.6 235.7 287.0 C240.7 287.4 241.9 287.7 247.3 288.1 C252.7 288.5 261.2 288.9 268.1 289.5 C275.1 290.1 282.8 291.1 289.0 291.6 C295.2 292.1 299.4 291.9 305.2 292.3 C311.0 292.7 317.5 293.2 323.7 293.9 C329.9 294.6 337.6 295.8 342.2 296.5 C346.8 297.2 347.6 297.2 351.5 297.9 C355.4 298.6 360.8 300.2 365.4 300.9 C370.0 301.6 374.7 301.6 379.3 302.0 C383.9 302.4 388.9 302.7 393.1 303.2 C397.3 303.7 400.1 304.5 404.7 304.8 C409.3 305.1 417.0 304.6 420.9 304.8 C424.8 305.0 425.6 305.7 427.9 306.2 C430.2 306.7 431.3 307.4 434.8 307.8 C438.3 308.2 443.3 308.2 448.7 308.3 C454.1 308.4 461.8 308.1 467.2 308.3 C472.6 308.5 477.2 309.0 481.1 309.4 C485.0 309.8 486.9 309.6 490.4 310.4 C493.9 311.2 497.3 312.8 501.9 314.1 C506.5 315.4 513.9 316.8 518.1 318.2 C522.4 319.6 522.8 319.1 527.4 322.4 C532.0 325.7 540.5 334.3 545.9 337.9 C551.3 341.4 553.6 341.2 559.8 343.7 C566.0 346.2 576.0 350.4 583.0 353.0 C590.0 355.6 597.2 357.8 601.5 359.2 C605.8 360.6 606.1 360.0 608.8 361.1 C611.5 362.2 614.2 364.8 617.6 365.8 C621.0 366.8 625.0 366.1 629.4 367.0 C633.8 367.9 639.6 370.0 644.0 371.4 C648.4 372.8 651.9 372.8 655.8 375.2 C659.7 377.6 662.6 381.6 667.5 385.5 C672.4 389.4 679.7 394.3 685.1 398.7 C690.5 403.1 694.9 407.4 699.8 411.9 C704.7 416.4 710.1 422.0 714.5 425.7 C718.9 429.4 722.8 430.8 726.2 433.9 C729.6 437.0 732.1 439.5 735.0 444.2 C737.9 448.9 740.9 456.4 743.8 461.8 C746.7 467.2 749.7 472.1 752.6 476.5 C755.5 480.9 758.5 482.1 761.4 488.2 C764.3 494.3 766.8 506.1 770.2 513.2 C773.6 520.3 777.1 525.9 782.0 530.8 C786.9 535.7 794.2 537.6 799.6 542.5 C805.0 547.4 809.4 555.2 814.3 560.1 C819.2 565.0 823.5 567.7 828.9 571.9 C834.3 576.1 841.1 580.2 846.5 585.1 C851.9 590.0 855.8 596.3 861.2 601.2 C866.6 606.1 874.4 610.9 878.8 614.4 C883.2 617.9 885.2 619.2 887.6 622.4 C890.0 625.6 890.9 629.1 892.9 633.7 C894.9 638.3 896.9 644.4 899.4 649.8 C901.9 655.2 905.1 661.5 908.0 666.0 C910.9 670.5 913.7 672.0 916.6 676.7 C919.5 681.4 922.0 686.8 925.2 694.0 C928.4 701.2 932.8 711.9 936.0 719.8 C939.2 727.7 941.7 734.5 944.6 741.3 C947.5 748.1 950.3 755.9 953.2 760.7 C956.1 765.6 958.9 768.1 961.8 770.4 C964.7 772.7 966.8 773.6 970.4 774.7 C974.0 775.8 979.3 775.9 983.3 776.8 C987.2 777.7 990.9 779.4 994.1 780.1 C997.3 780.8 999.8 780.6 1002.7 781.2 C1005.6 781.9 1007.3 783.3 1011.3 784.0 C1015.2 784.7 1021.4 785.1 1026.4 785.5 C1031.4 785.9 1037.5 784.4 1041.5 786.5 C1045.5 788.6 1047.2 795.9 1050.1 798.4 C1053.0 800.9 1055.5 799.3 1058.7 801.6 C1061.9 803.9 1065.5 809.4 1069.5 812.4 C1073.5 815.4 1078.1 817.8 1082.4 819.9 C1086.7 822.0 1092.4 824.3 1095.3 825.3 C1098.2 826.3 1098.9 825.9 1099.6 826.0" fill="none" stroke="#d6434b" stroke-width="3.8" stroke-linejoin="round" stroke-linecap="butt"/><path d="M1100.1 825.7 C1102.2 825.0 1108.5 823.3 1112.5 821.7 C1116.5 820.1 1120.0 817.9 1123.8 816.1 C1127.5 814.3 1131.2 812.1 1135.0 811.1 C1138.8 810.1 1142.9 810.7 1146.3 810.4 C1149.7 810.1 1152.3 810.4 1155.3 809.3 C1158.3 808.2 1161.7 807.1 1164.3 803.7 C1166.9 800.3 1168.8 794.2 1171.0 789.1 C1173.2 784.0 1175.2 777.0 1177.8 773.3 C1180.4 769.5 1183.8 769.4 1186.8 766.6 C1189.8 763.8 1192.8 759.4 1195.8 756.4 C1198.8 753.4 1201.8 752.1 1204.8 748.5 C1207.8 744.9 1210.4 738.8 1213.8 735.0 C1217.2 731.2 1221.2 729.8 1225.0 726.0 C1228.8 722.2 1232.5 716.8 1236.3 712.5 C1240.1 708.2 1243.5 703.8 1247.6 700.2 C1251.7 696.7 1256.6 694.0 1261.1 691.2 C1265.6 688.4 1270.1 685.9 1274.6 683.3 C1279.1 680.7 1283.6 678.8 1288.1 675.4 C1292.6 672.0 1297.1 666.2 1301.6 663.0 C1306.1 659.8 1310.6 657.9 1315.1 656.3 C1319.6 654.7 1323.0 654.6 1328.6 653.3 C1334.2 652.0 1343.5 649.4 1348.8 648.4 C1354.0 647.4 1356.3 648.0 1360.1 647.3 C1363.8 646.5 1367.2 645.0 1371.3 643.9 C1375.4 642.8 1380.3 641.2 1384.8 640.5 C1389.3 639.8 1395.0 640.1 1398.4 639.4 C1401.8 638.6 1402.1 636.8 1405.1 636.0 C1408.1 635.2 1413.0 636.1 1416.4 634.9 C1419.8 633.7 1420.5 630.0 1425.4 628.8 C1430.3 627.6 1439.6 628.2 1445.6 627.5 C1451.6 626.8 1456.9 625.8 1461.4 624.8 C1465.9 623.8 1468.1 622.6 1472.6 621.8 C1477.1 621.0 1483.5 620.2 1488.4 619.8 C1493.3 619.3 1498.2 620.2 1501.9 619.1 C1505.7 618.0 1507.9 614.3 1510.9 613.1 C1513.9 611.9 1516.8 612.3 1520.0 611.9 C1523.2 611.5 1526.5 613.0 1529.8 610.9 C1533.1 608.8 1535.1 604.2 1539.6 599.2 C1544.1 594.2 1552.6 585.9 1556.7 580.8 C1560.8 575.7 1562.0 572.7 1564.0 568.6 C1566.0 564.5 1566.0 561.8 1568.9 556.3 C1571.8 550.8 1576.7 541.2 1581.2 535.5 C1585.7 529.8 1591.3 526.4 1595.8 522.1 C1600.3 517.8 1604.4 512.4 1608.1 509.9 C1611.8 507.4 1613.7 509.8 1617.8 506.9 C1621.9 504.0 1628.0 495.7 1632.5 492.7 C1637.0 489.7 1640.7 492.0 1644.8 489.1 C1648.9 486.2 1652.5 479.7 1657.0 475.6 C1661.5 471.5 1666.8 467.1 1671.7 464.6 C1676.6 462.2 1681.8 462.2 1686.3 460.9 C1690.8 459.5 1693.7 457.5 1698.6 456.5 C1703.5 455.5 1709.6 456.0 1715.7 454.8 C1721.8 453.6 1728.8 450.6 1735.3 449.4 C1741.8 448.2 1748.3 448.8 1754.8 447.5 C1761.3 446.2 1768.7 443.2 1774.4 441.9 C1780.1 440.6 1784.2 440.8 1789.1 439.7 C1794.0 438.6 1798.9 436.4 1803.8 435.3 C1808.7 434.2 1813.5 434.4 1818.4 432.8 C1823.3 431.2 1825.8 427.5 1833.1 425.5 C1840.4 423.5 1853.5 421.8 1862.5 420.6 C1871.5 419.5 1878.8 419.3 1886.9 418.6 C1895.1 417.9 1903.2 416.9 1911.4 416.4 C1919.6 415.9 1927.8 416.1 1935.9 415.7 C1944.1 415.3 1954.2 414.6 1960.3 414.0 C1966.4 413.4 1966.8 412.6 1972.5 412.0 C1978.2 411.4 1988.9 410.8 1994.6 410.1 C2000.3 409.4 2002.3 408.2 2006.8 407.6 C2011.3 407.0 2019.0 406.8 2021.5 406.6" fill="none" stroke="#60a893" stroke-width="3.8" stroke-linejoin="round" stroke-linecap="butt"/><line x1="1100" y1="257.8" x2="1100" y2="825.5" stroke="#d63a3c" stroke-width="3.9" stroke-dasharray="15.8 8.2"/><path d="M1098.9 226.6 L1109.9 257.8 L1098.9 249.9 L1088.1 257.8 Z" fill="#d63a3c"/><text x="989.42" y="211.10" font-size="23" fill="#333" textLength="218.52" lengthAdjust="spacingAndGlyphs">Current Price:2056.7</text><text x="15.83" y="233.00" font-size="23" fill="#111" textLength="92.07" lengthAdjust="spacingAndGlyphs">135.55M</text><text x="15.83" y="301.50" font-size="23" fill="#111" textLength="92.07" lengthAdjust="spacingAndGlyphs">120.00M</text><text x="30.19" y="435.40" font-size="23" fill="#111" textLength="77.64" lengthAdjust="spacingAndGlyphs">90.00M</text><text x="30.24" y="567.00" font-size="23" fill="#111" textLength="77.60" lengthAdjust="spacingAndGlyphs">60.00M</text><text x="30.43" y="699.30" font-size="23" fill="#111" textLength="77.40" lengthAdjust="spacingAndGlyphs">30.00M</text><text x="34.30" y="832.90" font-size="23" fill="#111" textLength="71.87" lengthAdjust="spacingAndGlyphs">13.10K</text><text x="2042.64" y="233.10" font-size="23" fill="#111" textLength="60.54" lengthAdjust="spacingAndGlyphs">2.70B</text><text x="2042.64" y="279.10" font-size="23" fill="#111" textLength="60.54" lengthAdjust="spacingAndGlyphs">2.50B</text><text x="2042.64" y="389.60" font-size="23" fill="#111" textLength="60.54" lengthAdjust="spacingAndGlyphs">2.00B</text><text x="2042.06" y="500.00" font-size="23" fill="#111" textLength="60.54" lengthAdjust="spacingAndGlyphs">1.50B</text><text x="2042.06" y="611.70" font-size="23" fill="#111" textLength="60.54" lengthAdjust="spacingAndGlyphs">1.00B</text><text x="2042.87" y="722.40" font-size="23" fill="#111" textLength="90.15" lengthAdjust="spacingAndGlyphs">500.00M</text><text x="2042.87" y="833.30" font-size="23" fill="#111" textLength="12.88" lengthAdjust="spacingAndGlyphs">0</text><text x="92.25" y="860.80" font-size="23" fill="#111" textLength="71.18" lengthAdjust="spacingAndGlyphs">1810.8</text><text x="188.36" y="860.80" font-size="23" fill="#111" textLength="71.18" lengthAdjust="spacingAndGlyphs">1834.8</text><text x="284.47" y="860.80" font-size="23" fill="#111" textLength="71.18" lengthAdjust="spacingAndGlyphs">1858.8</text><text x="380.58" y="860.80" font-size="23" fill="#111" textLength="71.18" lengthAdjust="spacingAndGlyphs">1882.8</text><text x="476.69" y="860.80" font-size="23" fill="#111" textLength="71.18" lengthAdjust="spacingAndGlyphs">1906.8</text><text x="572.80" y="860.80" font-size="23" fill="#111" textLength="71.18" lengthAdjust="spacingAndGlyphs">1930.8</text><text x="668.91" y="860.80" font-size="23" fill="#111" textLength="71.18" lengthAdjust="spacingAndGlyphs">1954.8</text><text x="765.02" y="860.80" font-size="23" fill="#111" textLength="71.18" lengthAdjust="spacingAndGlyphs">1978.8</text><text x="861.42" y="860.80" font-size="23" fill="#111" textLength="71.18" lengthAdjust="spacingAndGlyphs">2002.8</text><text x="957.53" y="860.80" font-size="23" fill="#111" textLength="71.18" lengthAdjust="spacingAndGlyphs">2026.8</text><text x="1053.64" y="860.80" font-size="23" fill="#111" textLength="71.18" lengthAdjust="spacingAndGlyphs">2055.6</text><text x="1149.83" y="860.80" font-size="23" fill="#111" textLength="71.18" lengthAdjust="spacingAndGlyphs">2077.2</text><text x="1245.94" y="860.80" font-size="23" fill="#111" textLength="71.18" lengthAdjust="spacingAndGlyphs">2101.2</text><text x="1342.05" y="860.80" font-size="23" fill="#111" textLength="71.18" lengthAdjust="spacingAndGlyphs">2125.2</text><text x="1438.16" y="860.80" font-size="23" fill="#111" textLength="71.18" lengthAdjust="spacingAndGlyphs">2149.2</text><text x="1534.27" y="860.80" font-size="23" fill="#111" textLength="71.18" lengthAdjust="spacingAndGlyphs">2173.2</text><text x="1630.38" y="860.80" font-size="23" fill="#111" textLength="71.18" lengthAdjust="spacingAndGlyphs">2197.2</text><text x="1726.49" y="860.80" font-size="23" fill="#111" textLength="71.18" lengthAdjust="spacingAndGlyphs">2221.2</text><text x="1822.60" y="860.80" font-size="23" fill="#111" textLength="71.18" lengthAdjust="spacingAndGlyphs">2245.2</text><text x="1918.71" y="860.80" font-size="23" fill="#111" textLength="71.18" lengthAdjust="spacingAndGlyphs">2269.2</text><rect x="125.2" y="865.8" width="1903.3" height="119.8" fill="#eff1fc"/><filter id="hs" x="-50%" y="-50%" width="200%" height="200%"><feDropShadow dx="0" dy="0" stdDeviation="3" flood-color="#000" flood-opacity="0.12"/></filter><rect x="113.0" y="911.5" width="29.2" height="34.3" rx="13" ry="13" fill="#373a49" filter="url(#hs)"/><line x1="124.2" y1="922.6" x2="124.2" y2="935" stroke="#9ea3b8" stroke-width="2.2"/><line x1="130.5" y1="922.6" x2="130.5" y2="935" stroke="#9ea3b8" stroke-width="2.2"/><rect x="2012.2" y="911.5" width="29.2" height="34.3" rx="13" ry="13" fill="#373a49" filter="url(#hs)"/><line x1="2023.4" y1="922.6" x2="2023.4" y2="935" stroke="#9ea3b8" stroke-width="2.2"/><line x1="2029.7" y1="922.6" x2="2029.7" y2="935" stroke="#9ea3b8" stroke-width="2.2"/><g opacity="0.62" fill="#a6a6a6"><text x="1831.74" y="787.20" font-size="37" font-weight="bold" fill="#a6a6a6" textLength="145.13" lengthAdjust="spacingAndGlyphs">coinglass</text><ellipse cx="1798.9" cy="765.8" rx="17.2" ry="14.7"/><path d="M1776.5 765.6 Q1776 757.3 1786 757.3 L1812 757.3 Q1822.2 757.3 1821.7 765.6 Z"/><path d="M1786 761 L1787.6 751.8 Q1789.3 749.3 1791 751.8 L1793.2 757 Z M1804.8 757 L1807 751.8 Q1808.7 749.3 1810.4 751.8 L1812 761 Z"/><rect x="1790" y="776" width="18" height="8"/><path d="M1785.3 787 Q1785.3 781 1793 781.2 L1807 781.2 Q1814.6 781 1814.6 787 Q1814.6 791.5 1810.5 792.5 Q1809 800.8 1799.5 800.8 Q1790 800.8 1789 792.5 Q1785.3 791.5 1785.3 787 Z"/><path d="M1783.5 800.2 L1789.4 796.1" stroke="#a6a6a6" stroke-width="1.5" fill="none"/></g></svg></body></html>
